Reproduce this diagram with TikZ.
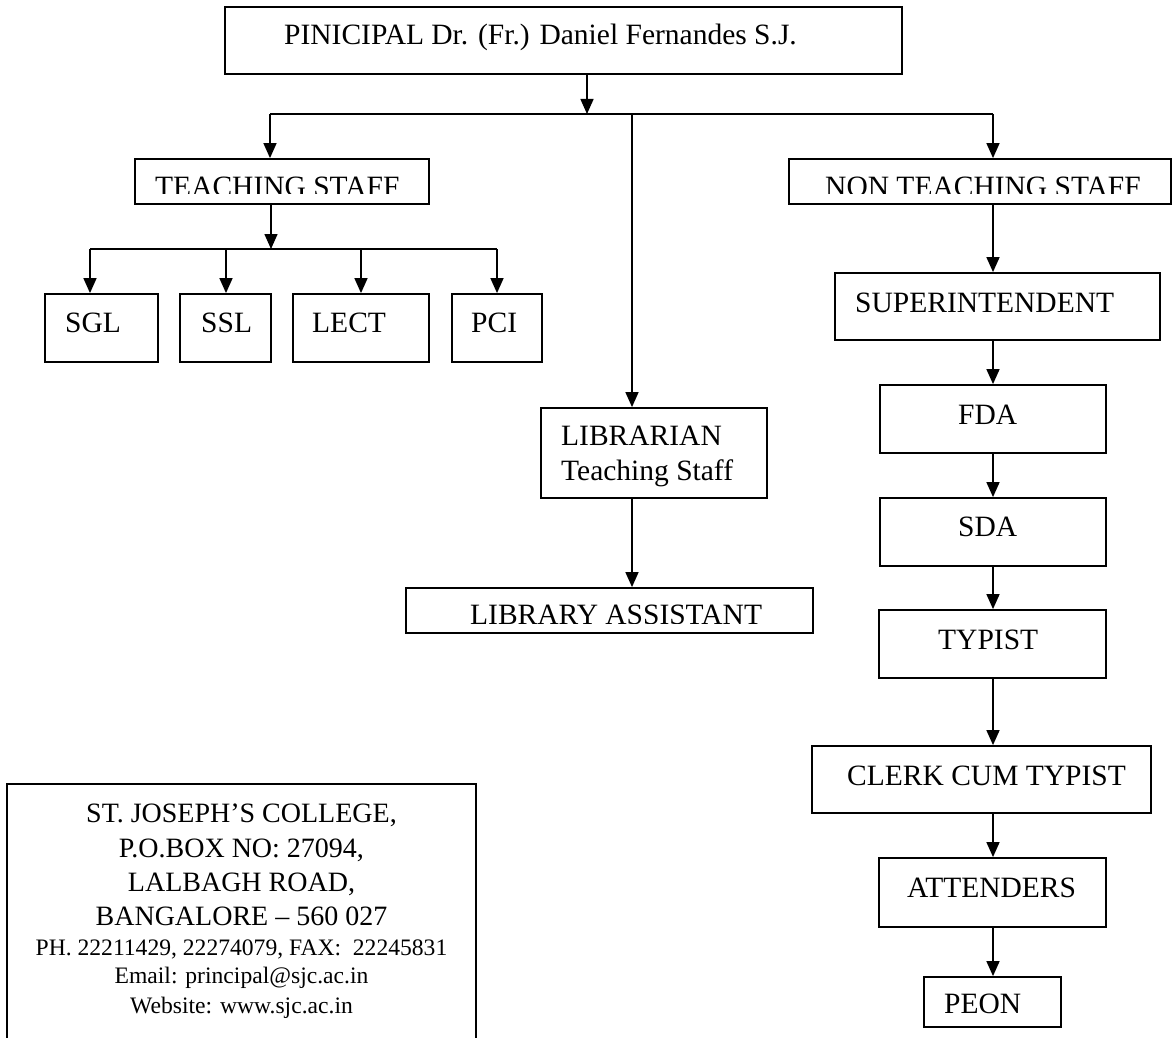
\documentclass[tikz,border=0pt]{standalone}
\usepackage{fontspec}
\setmainfont{Liberation Serif}
\usetikzlibrary{arrows.meta,fit}
\begin{document}
\begin{tikzpicture}[x=1pt,y=-1pt,
  bx/.style={draw, line width=1.8pt, inner sep=0pt, rectangle},
  lbl/.style={inner sep=0pt, anchor=base west, font=\fontsize{29.5}{34}\selectfont},
  addr/.style={inner sep=0pt, anchor=base, font=\fontsize{28}{32}\selectfont},
  addrs/.style={inner sep=0pt, anchor=base, font=\fontsize{23.6}{28}\selectfont},
  ln/.style={line width=1.5pt},
  arr/.style={line width=1.5pt, -{Triangle[width=13pt,length=15pt]}}]
\useasboundingbox (0,0) rectangle (1173,1038);

% boxes
\node[bx, fit={(225,7) (902,74)}] (prin) {};
\node[bx, fit={(135,159) (429,204)}] (ts) {};
\node[bx, fit={(789,159) (1171,204)}] (nts) {};
\node[bx, fit={(45,294) (158,362)}] (sgl) {};
\node[bx, fit={(180,294) (271,362)}] (ssl) {};
\node[bx, fit={(293,294) (429,362)}] (lect) {};
\node[bx, fit={(452,294) (542,362)}] (pci) {};
\node[bx, fit={(541,408) (767,498)}] (lib) {};
\node[bx, fit={(406,588) (813,633)}] (libas) {};
\node[bx, fit={(835,273) (1160,340)}] (sup) {};
\node[bx, fit={(880,385) (1106,453)}] (fda) {};
\node[bx, fit={(880,498) (1106,566)}] (sda) {};
\node[bx, fit={(879,610) (1106,678)}] (typ) {};
\node[bx, fit={(812,746) (1151,813)}] (clerk) {};
\node[bx, fit={(879,858) (1106,927)}] (att) {};
\node[bx, fit={(924,977) (1061,1027)}] (peon) {};
\node[bx, fit={(7,784) (476,1060)}] (college) {};

% labels
\node[lbl] (tprin) at (284,45) {PINICIPAL Dr. (Fr.) Daniel Fernandes S.J.};
\begin{scope}
  \clip (135,159) rectangle (429,193.3);
  \node[lbl] (tts) at (155,196.5) {TEACHING STAFF};
\end{scope}
\begin{scope}
  \clip (789,159) rectangle (1171,193.3);
  \node[lbl] (tnts) at (825,196.5) {NON TEACHING STAFF};
\end{scope}
\begin{scope}
  \clip (406,588) rectangle (813,623);
  \node[lbl] (tlibas) at (470,624.5) {LIBRARY ASSISTANT};
\end{scope}
\node[lbl] (tsgl) at (65,332) {SGL};
\node[lbl] (tssl) at (201,332) {SSL};
\node[lbl] (tlect) at (312,332) {LECT};
\node[lbl] (tpci) at (471,332) {PCI};
\node[lbl] (tlib1) at (561,445) {LIBRARIAN};
\node[lbl] (tlib2) at (561,480) {Teaching Staff};
\node[lbl] (tsup) at (855,312) {SUPERINTENDENT};
\node[lbl] (tfda) at (958,424) {FDA};
\node[lbl] (tsda) at (958,536) {SDA};
\node[lbl] (ttyp) at (938,649) {TYPIST};
\node[lbl] (tclerk) at (847,785) {CLERK CUM TYPIST};
\node[lbl] (tatt) at (907,897) {ATTENDERS};
\node[lbl] (tpeon) at (944,1013) {PEON};

\node[addr] (a1) at (241.5,822) {ST. JOSEPH’S COLLEGE,};
\node[addr] (a2) at (241.5,857) {P.O.BOX NO: 27094,};
\node[addr] (a3) at (241.5,891) {LALBAGH ROAD,};
\node[addr] (a4) at (241.5,925) {BANGALORE – 560 027};
\node[addrs] (a5) at (241.5,955) {PH. 22211429, 22274079, FAX:\ \ 22245831};
\node[addrs] (a6) at (241.5,983) {Email: principal@sjc.ac.in};
\node[addrs] (a7) at (241.5,1013) {Website: www.sjc.ac.in};

% connectors
\coordinate (hub) at (587,114);
\coordinate (hl) at (270,114);
\coordinate (hm) at (632,114);
\coordinate (hr) at (993,114);
\draw[arr] (prin.south -| hub) -- (hub);
\draw[ln] (hl) -- (hr);
\draw[arr] (hl) -- (hl |- ts.north);
\draw[arr] (hm) -- (hm |- lib.north);
\draw[arr] (hr) -- (hr |- nts.north);

\coordinate (tj) at (271,249);
\coordinate (tjl) at (90,249);
\coordinate (tjr) at (497,249);
\draw[arr] (ts.south -| tj) -- (tj);
\draw[ln] (tjl) -- (tjr);
\draw[arr] (tjl) -- (tjl |- sgl.north);
\draw[arr] (226,249) -- (226,249 |- ssl.north);
\draw[arr] (361,249) -- (361,249 |- lect.north);
\draw[arr] (tjr) -- (tjr |- pci.north);

\coordinate (lx) at (632,0);
\draw[arr] (lib.south -| lx) -- (libas.north -| lx);

\coordinate (rx) at (993,0);
\draw[arr] (nts.south -| rx) -- (sup.north -| rx);
\draw[arr] (sup.south -| rx) -- (fda.north -| rx);
\draw[arr] (fda.south -| rx) -- (sda.north -| rx);
\draw[arr] (sda.south -| rx) -- (typ.north -| rx);
\draw[arr] (typ.south -| rx) -- (clerk.north -| rx);
\draw[arr] (clerk.south -| rx) -- (att.north -| rx);
\draw[arr] (att.south -| rx) -- (peon.north -| rx);
\end{tikzpicture}
\end{document}
